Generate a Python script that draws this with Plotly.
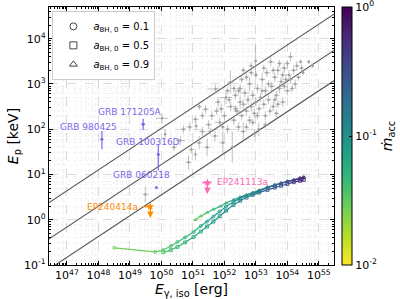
import numpy as np
import plotly.graph_objects as go
from plotly.colors import sample_colorscale, sequential

# ---------------- data ----------------
x_tick_exps = list(range(47, 56))
y_tick_exps = list(range(-1, 5))
cbar_exps = [-2, -1, 0]

# Amati-type relation: log Ep = norm + slope*(log Eiso - 52)
amati_slope = 0.46
amati_norms = [2.94, 2.14, 1.47]
amati_logE = [45.0, 57.0]

# GRB sample: log Eiso, log Ep, err(log Eiso), err(log Ep)
grb_logE = [50.02, 50.12, 50.86, 51.08, 49.49, 50.60, 50.90, 51.08, 51.10, 51.20, 51.30, 51.40,
            51.50, 51.45, 51.72, 51.60, 51.70, 51.80, 51.85, 51.90, 51.95, 52.00, 52.05, 52.10,
            52.19, 52.20, 52.25, 52.30, 52.35, 52.40, 52.45, 52.50, 52.50, 52.55, 52.60, 52.60,
            52.65, 52.70, 52.75, 52.80, 52.80, 52.85, 52.90, 52.95, 52.99, 53.00, 53.05, 53.09,
            53.10, 53.15, 53.20, 53.25, 53.30, 53.30, 53.35, 53.40, 53.47, 53.50, 53.55, 53.60,
            53.65, 53.70, 53.75, 53.80, 53.85, 53.90, 53.95, 54.00, 54.05, 54.10, 54.20, 54.25,
            54.30, 54.42, 54.50, 54.68, 54.80,
            52.15, 52.30, 52.45, 52.55, 52.70, 52.85, 53.00, 53.05, 53.20, 53.25, 53.40, 53.45,
            53.55, 53.60, 53.70, 53.75, 53.85, 53.90, 54.00, 54.10, 54.15, 52.90, 52.70, 52.35,
            52.60, 51.95, 51.75, 51.55, 51.30, 51.20, 50.70, 50.40, 50.95, 52.95, 53.30, 53.65,
            54.35, 54.45, 52.10, 52.85]
grb_logEp = [2.24, 1.89, 1.27, 1.44, 0.56, 1.75, 2.05, 2.22, 2.07, 1.70, 1.95, 2.44,
             2.10, 1.60, 2.89, 2.30, 1.85, 2.60, 2.15, 2.45, 1.70, 2.30, 2.70, 2.00,
             3.04, 2.50, 1.60, 2.20, 2.75, 2.40, 2.05, 2.60, 2.90, 2.30, 2.55, 1.95,
             2.80, 2.40, 2.65, 2.20, 3.00, 2.50, 2.75, 2.35, 3.51, 2.60, 2.90, 2.00,
             2.45, 2.70, 3.10, 2.55, 2.85, 2.30, 3.25, 2.65, 3.49, 2.95, 2.50, 3.15,
             2.75, 3.30, 2.90, 3.05, 2.60, 3.35, 3.10, 2.85, 3.20, 3.60, 3.30, 3.00,
             3.40, 3.49, 3.25, 3.49, 3.40,
             2.65, 2.90, 2.85, 3.10, 3.15, 3.25, 3.20, 2.30, 2.85, 3.35, 3.00, 2.40,
             3.30, 2.65, 2.55, 3.45, 3.20, 2.95, 3.45, 3.10, 2.90, 2.15, 2.05, 2.45,
             3.30, 2.05, 2.40, 1.95, 2.30, 2.50, 2.00, 1.60, 1.55, 1.90, 2.10, 2.35,
             3.15, 3.35, 2.85, 3.40]
grb_dlogE = [0.20, 0.00, 0.10, 0.00, 0.10, 0.15, 0.10, 0.10, 0.05, 0.10, 0.10, 0.10,
             0.10, 0.10, 0.25, 0.10, 0.10, 0.10, 0.15, 0.10, 0.10, 0.10, 0.20, 0.10,
             0.10, 0.15, 0.05, 0.10, 0.10, 0.10, 0.10, 0.10, 0.10, 0.10, 0.10, 0.10,
             0.15, 0.10, 0.10, 0.10, 0.10, 0.10, 0.10, 0.10, 0.05, 0.10, 0.10, 0.05,
             0.10, 0.10, 0.10, 0.10, 0.10, 0.10, 0.10, 0.10, 0.10, 0.10, 0.10, 0.10,
             0.10, 0.10, 0.10, 0.10, 0.10, 0.10, 0.10, 0.10, 0.10, 0.10, 0.10, 0.10,
             0.10, 0.05, 0.05, 0.05, 0.05,
             0.08, 0.08, 0.08, 0.08, 0.08, 0.08, 0.08, 0.08, 0.08, 0.08, 0.08, 0.08,
             0.08, 0.08, 0.08, 0.08, 0.08, 0.08, 0.08, 0.08, 0.08, 0.08, 0.08, 0.08,
             0.08, 0.08, 0.08, 0.08, 0.08, 0.08, 0.08, 0.08, 0.08, 0.08, 0.08, 0.08,
             0.08, 0.08, 0.08, 0.08]
grb_dlogEp = [0.12, 0.10, 0.15, 0.12, 0.18, 0.10, 0.10, 0.08, 0.10, 0.15, 0.10, 0.10,
              0.10, 0.20, 0.10, 0.10, 0.12, 0.10, 0.10, 0.10, 0.25, 0.10, 0.15, 0.10,
              0.25, 0.10, 0.35, 0.10, 0.10, 0.10, 0.10, 0.15, 0.10, 0.10, 0.10, 0.20,
              0.10, 0.10, 0.10, 0.10, 0.15, 0.10, 0.10, 0.10, 0.35, 0.10, 0.10, 0.15,
              0.10, 0.10, 0.15, 0.10, 0.10, 0.10, 0.10, 0.10, 0.10, 0.10, 0.10, 0.10,
              0.10, 0.10, 0.10, 0.10, 0.10, 0.10, 0.10, 0.10, 0.10, 0.10, 0.10, 0.10,
              0.10, 0.05, 0.05, 0.05, 0.05,
              0.08, 0.08, 0.08, 0.08, 0.08, 0.08, 0.08, 0.08, 0.08, 0.08, 0.08, 0.08,
              0.08, 0.08, 0.08, 0.08, 0.08, 0.08, 0.08, 0.08, 0.08, 0.08, 0.08, 0.08,
              0.08, 0.08, 0.08, 0.08, 0.08, 0.08, 0.08, 0.08, 0.08, 0.08, 0.08, 0.08,
              0.08, 0.08, 0.08, 0.08]

# Named low-luminosity GRBs
named_grbs = ["GRB 980425", "GRB 171205A", "GRB 100316D", "GRB 060218"]
named_logE = [48.11, 49.42, 49.90, 49.84]
named_logEp = [1.78, 2.11, 1.44, 0.71]
named_dlogE = [0.04, 0.06, 0.04, 0.0]
named_dlogEp_up = [0.18, 0.12, 0.23, 0.0]
named_dlogEp_dn = [0.22, 0.12, 0.35, 0.0]
named_label_logE = [47.67, 49.01, 49.58, 49.38]
named_label_logEp = [2.04, 2.38, 1.71, 0.98]

# Einstein Probe events (upper limits on Ep)
ep_names = ["EP240414a", "EP241113a"]
ep_logE = [49.65, 51.46]
ep_logEp = [0.29, 0.82]
ep_logE_lo = [49.40, 51.30]
ep_logE_hi = [49.88, 51.62]
ep_colors = ["#ff8c00", "#ff69b4"]
ep_label_logE = [48.45, 52.59]
ep_label_logEp = [0.29, 0.84]

# Model tracks (a_BH,0 = 0.1, 0.5, 0.9): log Eiso, log Ep, log mdot_acc
spins = ["0.1", "0.5", "0.9"]
symbols = ["circle-open", "square-open", "triangle-up-open"]
track1_logE = [48.50, 49.80, 50.06, 50.30, 50.51, 50.75, 51.02, 51.25, 51.45, 51.65, 51.85, 52.05,
               52.29, 52.50, 52.70, 52.90, 53.10, 53.37, 53.60, 53.80, 54.00, 54.20, 54.40, 54.52]
track1_logEp = [-0.62, -0.71, -0.67, -0.58, -0.49, -0.39, -0.27, -0.14, -0.04, 0.07, 0.18, 0.29,
                0.40, 0.47, 0.53, 0.58, 0.63, 0.71, 0.76, 0.80, 0.84, 0.87, 0.91, 0.93]
track1_logm = [-1.60, -1.52, -1.48, -1.42, -1.38, -1.33, -1.28, -1.22, -1.17, -1.12, -1.07, -1.02,
               -0.96, -0.90, -0.85, -0.80, -0.74, -0.66, -0.58, -0.50, -0.42, -0.34, -0.26, -0.20]
track2_logE = [50.06, 50.30, 50.51, 50.75, 51.02, 51.25, 51.45, 51.65, 51.85, 52.05, 52.29,
               52.50, 52.70, 52.90, 53.10, 53.37, 53.60, 53.80, 54.00, 54.20, 54.40, 54.52]
track2_logEp = [-0.72, -0.67, -0.60, -0.50, -0.38, -0.26, -0.15, -0.04, 0.08, 0.20, 0.33,
                0.42, 0.49, 0.55, 0.60, 0.66, 0.71, 0.75, 0.79, 0.83, 0.86, 0.88]
track2_logm = [-1.45, -1.40, -1.36, -1.31, -1.26, -1.21, -1.16, -1.11, -1.06, -1.01, -0.95,
               -0.89, -0.84, -0.78, -0.73, -0.65, -0.57, -0.49, -0.41, -0.33, -0.25, -0.20]
track3_logE = [51.08, 51.25, 51.45, 51.65, 51.88, 52.05, 52.29, 52.50, 52.70, 52.90, 53.10,
               53.37, 53.60, 53.80, 54.00, 54.20, 54.40, 54.52]
track3_logEp = [0.00, 0.08, 0.16, 0.23, 0.30, 0.37, 0.44, 0.50, 0.55, 0.60, 0.65,
                0.72, 0.77, 0.81, 0.85, 0.88, 0.92, 0.94]
track3_logm = [-1.55, -1.50, -1.44, -1.38, -1.31, -1.25, -1.17, -1.10, -1.03, -0.96, -0.88,
               -0.78, -0.68, -0.58, -0.48, -0.38, -0.28, -0.22]

# ---------------- figure ----------------
P = lambda a: [10 ** v for v in a]
vir_r = sequential.Viridis[::-1]
FONT = "DejaVu Sans"

fig = go.Figure()

# Amati lines
for nrm in amati_norms:
    ly = [nrm + amati_slope * (e - 52) for e in amati_logE]
    fig.add_trace(go.Scatter(x=P(amati_logE), y=P(ly), mode="lines",
                             line=dict(color="#555555", width=1.1), showlegend=False,
                             hoverinfo="skip"))

# GRB sample
gx = np.array(P(grb_logE)); gy = np.array(P(grb_logEp))
dx = np.array(grb_dlogE); dy = np.array(grb_dlogEp)
fig.add_trace(go.Scatter(
    x=gx, y=gy, mode="markers",
    marker=dict(color="#a0a0a0", size=2.5),
    error_x=dict(type="data", array=gx * (10 ** dx - 1), arrayminus=gx * (1 - 10 ** -dx),
                 color="rgba(160,160,160,0.7)", thickness=0.9, width=0),
    error_y=dict(type="data", array=gy * (10 ** dy - 1), arrayminus=gy * (1 - 10 ** -dy),
                 color="rgba(160,160,160,0.7)", thickness=0.9, width=0),
    showlegend=False, hoverinfo="skip"))

# named GRBs
nx = np.array(P(named_logE)); ny = np.array(P(named_logEp))
fig.add_trace(go.Scatter(
    x=nx, y=ny, mode="markers", marker=dict(color="#7b68ee", size=3),
    error_x=dict(type="data", array=nx * (10 ** np.array(named_dlogE) - 1),
                 arrayminus=nx * (1 - 10 ** -np.array(named_dlogE)), color="#7b68ee",
                 thickness=1.2, width=0),
    error_y=dict(type="data", array=ny * (10 ** np.array(named_dlogEp_up) - 1),
                 arrayminus=ny * (1 - 10 ** -np.array(named_dlogEp_dn)), color="#7b68ee",
                 thickness=1.2, width=0),
    showlegend=False, hoverinfo="skip"))

annotations = []
for name, lx, ly in zip(named_grbs, named_label_logE, named_label_logEp):
    annotations.append(dict(x=lx, y=ly, xref="x", yref="y", text=name, showarrow=False,
                            font=dict(color="#7b68ee", size=9, family=FONT)))

# EP events
for i, name in enumerate(ep_names):
    c = ep_colors[i]
    fig.add_trace(go.Scatter(x=P([ep_logE_lo[i], ep_logE_hi[i]]), y=P([ep_logEp[i]] * 2),
                             mode="lines", line=dict(color=c, width=1.5, dash="dash"),
                             showlegend=False, hoverinfo="skip"))
    fig.add_trace(go.Scatter(x=P([ep_logE[i]]), y=P([ep_logEp[i]]), mode="markers",
                             marker=dict(color=c, size=6, symbol="star"),
                             showlegend=False, hoverinfo="skip"))
    annotations.append(dict(x=ep_logE[i], y=ep_logEp[i] - 0.25, xref="x", yref="y",
                            ax=ep_logE[i], ay=ep_logEp[i], axref="x", ayref="y", text="",
                            showarrow=True, arrowhead=2, arrowsize=1, arrowwidth=1.3,
                            arrowcolor=c))
    annotations.append(dict(x=ep_label_logE[i], y=ep_label_logEp[i], xref="x", yref="y",
                            text=name, showarrow=False,
                            font=dict(color=c, size=9, family=FONT)))

# model tracks
tracks = [(track1_logE, track1_logEp, track1_logm),
          (track2_logE, track2_logEp, track2_logm),
          (track3_logE, track3_logEp, track3_logm)]
for k, (te, tp, tm) in enumerate(tracks):
    for i in range(len(te) - 1):
        frac = ((tm[i] + tm[i + 1]) / 2 + 2) / 2
        col = sample_colorscale(vir_r, [frac])[0]
        fig.add_trace(go.Scatter(x=P(te[i:i + 2]), y=P(tp[i:i + 2]), mode="lines",
                                 line=dict(color=col, width=1.2), showlegend=False,
                                 hoverinfo="skip"))
for k, (te, tp, tm) in enumerate(tracks):
    fig.add_trace(go.Scatter(
        x=P(te), y=P(tp), mode="markers",
        marker=dict(symbol=symbols[k], size=3, color=tm, colorscale=vir_r, cmin=-2, cmax=0,
                    line=dict(width=0.9),
                    showscale=(k == 0),
                    colorbar=dict(
                        x=1.028, xanchor="left", xref="paper", xpad=0, ypad=0,
                        thickness=10, len=1.0,
                        lenmode="fraction", y=0.5, yanchor="middle",
                        outlinewidth=1, outlinecolor="black",
                        tickmode="array", tickvals=cbar_exps,
                        ticktext=["10<sup>%d</sup>" % e for e in cbar_exps],
                        ticklabeloverflow="allow",
                        ticks="inside", ticklen=3, tickcolor="black",
                        tickfont=dict(size=11, family=FONT, color="black"),
                        title=dict(text="<i>ṁ</i><sub>acc</sub>", side="right",
                                   font=dict(size=14, family=FONT, color="black")))),
        showlegend=False, hoverinfo="skip"))

# legend entries
for k in range(3):
    fig.add_trace(go.Scatter(x=[None], y=[None], mode="markers",
                             marker=dict(symbol=symbols[k], size=7, color="#444444",
                                         line=dict(width=1)),
                             name="<i>a</i><sub>BH, 0</sub> = " + spins[k]))

minor_vals = lambda lo, hi: [m * 10.0 ** e for e in range(lo, hi) for m in range(2, 10)]

axis_common = dict(type="log", showline=True, linecolor="black", linewidth=1.2, mirror="allticks",
                   ticks="inside", ticklen=4, tickcolor="black", tickwidth=1,
                   showgrid=True, gridcolor="#dcdcdc", griddash="dash", gridwidth=0.8,
                   zeroline=False, tickfont=dict(size=11, family=FONT, color="black"))

fig.update_layout(
    width=400, height=299,
    margin=dict(l=49, r=66, t=7, b=34, autoexpand=False),
    paper_bgcolor="white", plot_bgcolor="white",
    font=dict(family=FONT, color="black"),
    xaxis=dict(range=[46.43, 55.48], tickmode="array",
               tickvals=[10.0 ** e for e in x_tick_exps],
               ticktext=["10<sup>%d</sup>" % e for e in x_tick_exps],
               minor=dict(tickmode="array", tickvals=minor_vals(46, 56), ticks="inside",
                          ticklen=2, tickcolor="black", showgrid=True,
                          gridcolor="#f3f3f3", griddash="dot"),
               title=dict(text="<i>E</i><sub>γ, iso</sub> [erg]", standoff=4,
                          font=dict(size=14, family=FONT)),
               **axis_common),
    yaxis=dict(range=[-1, 4.7], tickmode="array",
               tickvals=[10.0 ** e for e in y_tick_exps],
               ticktext=["10<sup>%d</sup>" % e for e in y_tick_exps],
               minor=dict(tickmode="array", tickvals=minor_vals(-1, 5), ticks="inside",
                          ticklen=2, tickcolor="black", showgrid=True,
                          gridcolor="#f3f3f3", griddash="dot"),
               title=dict(text="<i>E</i><sub>p</sub> [keV]", standoff=2,
                          font=dict(size=14, family=FONT)),
               **axis_common),
    legend=dict(x=0.012, y=0.985, xanchor="left", yanchor="top", bgcolor="white",
                bordercolor="#cccccc", borderwidth=1, font=dict(size=10, family=FONT),
                itemwidth=30, tracegroupgap=0),
    annotations=annotations,
    showlegend=True,
)

fig.write_html("out.html")
